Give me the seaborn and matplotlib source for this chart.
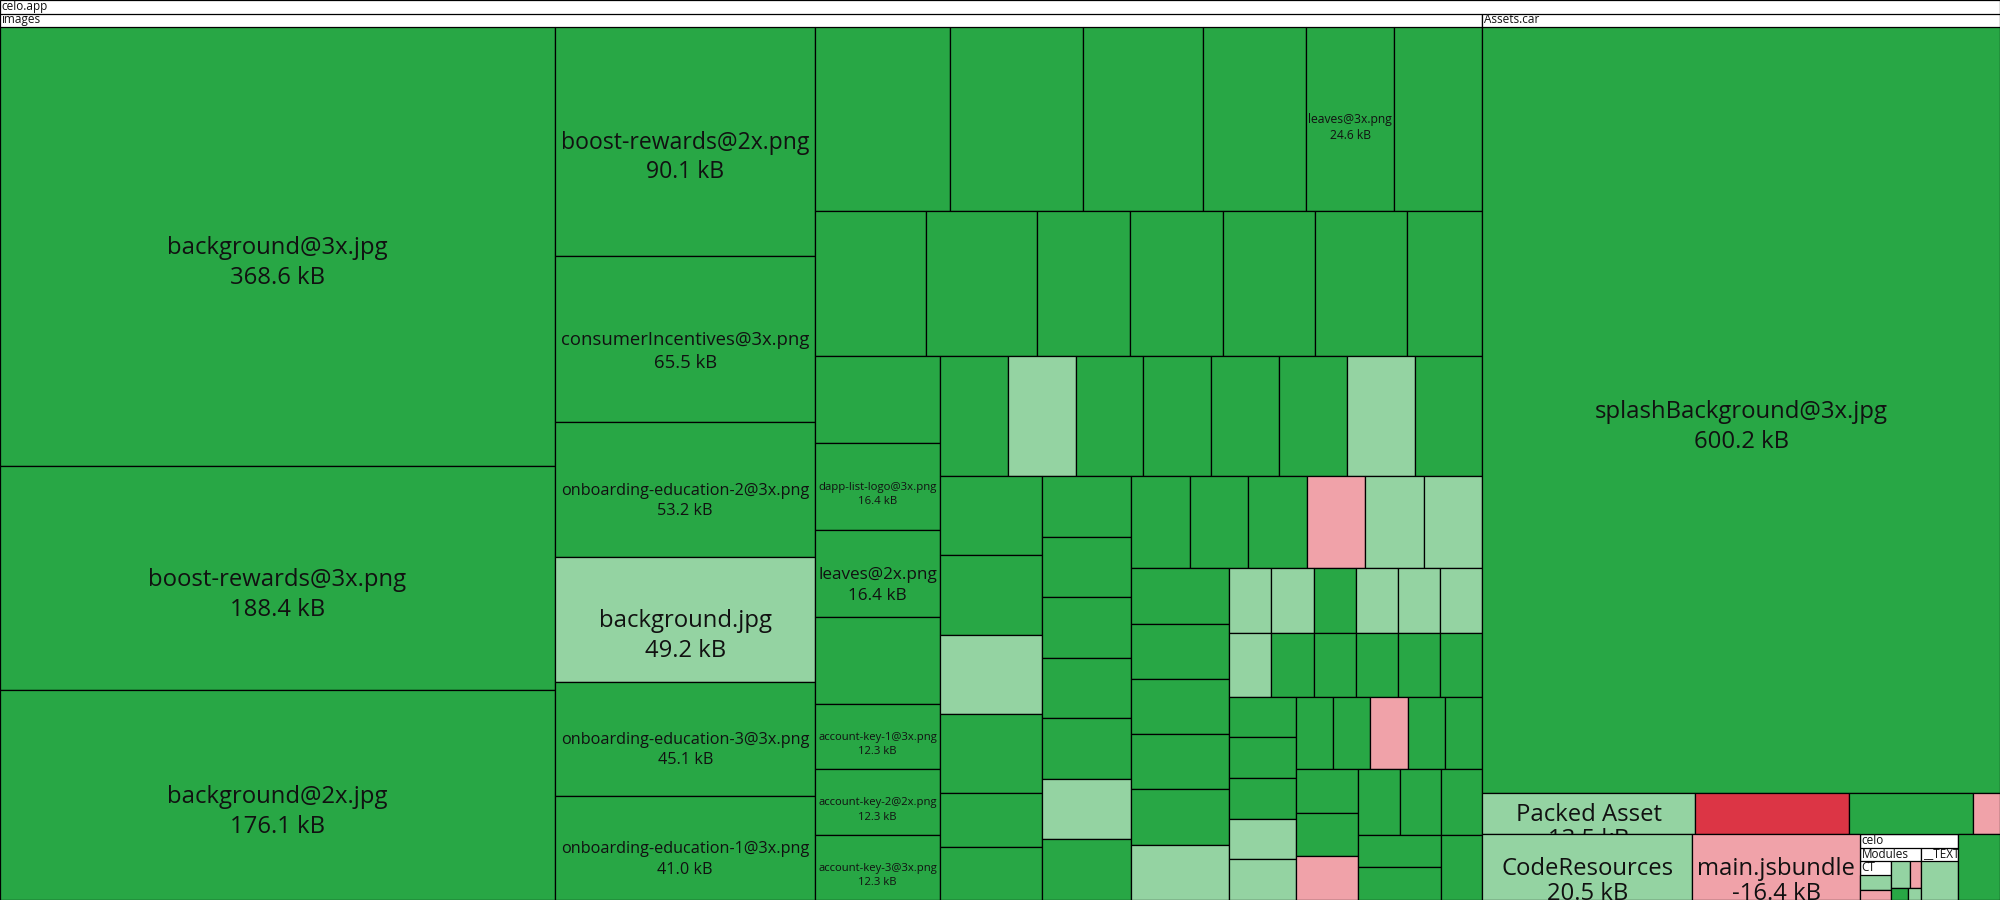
import matplotlib
matplotlib.use("Agg")
import matplotlib.pyplot as plt
import seaborn as sns
from matplotlib.patches import Rectangle
from matplotlib.transforms import Bbox

# ---------------- data (sizes in kB, signed size change) ----------------
# status: A = added, G = grown, S = shrunk, R = removed
image_names = [
    "background@3x.jpg", "boost-rewards@3x.png", "background@2x.jpg",
    "boost-rewards@2x.png", "consumerIncentives@3x.png", "onboarding-education-2@3x.png",
    "background.jpg", "onboarding-education-3@3x.png", "onboarding-education-1@3x.png",
    "", "", "", "", "leaves@3x.png", "",
    "", "", "", "", "", "", "",
    "", "dapp-list-logo@3x.png", "leaves@2x.png", "", "account-key-1@3x.png",
    "account-key-2@2x.png", "account-key-3@3x.png",
    "", "", "", "", "", "", "", "",
    "", "", "", "", "", "",
    "", "", "", "", "", "", "",
    "", "", "", "", "", "",
    "", "", "", "", "", "",
    "", "", "", "", "", "",
    "", "", "", "", "", "",
    "", "", "", "", "",
    "", "", "", "", "",
    "", "", "",
    "", "", "",
    "", "", "",
]
image_sizes = [
    368.6, 188.4, 176.1,
    90.1, 65.5, 53.2, 49.2, 45.1, 41.0,
    37.4, 37.0, 33.5, 28.5, 24.6, 24.5,
    24.4, 24.3, 20.4, 20.4, 20.3, 20.3, 16.5,
    16.4, 16.4, 16.4, 16.4, 12.3, 12.3, 12.3,
    12.3, 12.3, 12.3, 12.3, 12.3, 12.3, 12.3, 12.3,
    12.2, 12.2, 12.2, 12.2, 8.2, 8.2,
    8.2, 8.2, 8.2, 8.2, 8.2, 8.2, 8.2,
    8.2, 8.2, 8.2, 8.2, 8.2, 8.2,
    8.2, 8.2, 8.2, 8.2, 8.2, 8.2,
    4.1, 4.1, 4.1, 4.1, 4.1, 4.1,
    4.1, 4.1, 4.1, 4.1, 4.1, 4.1,
    4.1, 4.1, 4.1, 4.1, 4.1,
    4.1, 4.1, 4.1, 4.1, 4.1,
    4.1, 4.1, 4.1,
    4.1, 4.1, 4.1,
    4.1, 4.1, 4.1,
]
image_status = list(
    "AAA" "AAAGAA" "AAAAAA" "AAAAAAA" "AAAAAAA" "AGAAAAGA" "AAGAAA"
    "AAAAAGA" "AAASGG" "AAAAAG" "GGAGGG" "GAAAAA" "AAAGG" "AASAA"
    "AAS" "AAA" "AAA"
)

assets_names = ["splashBackground@3x.jpg", "Packed Asset", "", "", ""]
assets_sizes = [600.2, 13.5, -9.7, 7.9, -1.7]
assets_status = ["A", "G", "R", "A", "S"]

root_names = ["CodeResources", "main.jsbundle", ""]
root_sizes = [20.5, -16.4, 4.1]
root_status = ["G", "S", "A"]

ct_names = ["", ""]
ct_sizes = [1.8, -1.2]
ct_status = ["G", "S"]
modules_names = ["", "", "", ""]
modules_sizes = [1.3, -0.8, 0.5, 0.4]
modules_status = ["G", "S", "A", "G"]
text_names = [""]
text_sizes = [3.6]
text_status = ["G"]

COLORS = {"A": "#28a745", "G": "#94d3a2", "S": "#f0a2a9", "R": "#dc3545"}


def leaves(names, sizes, status):
    return [dict(name=n, value=v, status=s) for n, v, s in zip(names, sizes, status)]


celo_binary = dict(name="celo", children=[
    dict(name="Modules", children=[
        dict(name="CT", children=leaves(ct_names, ct_sizes, ct_status)),
    ] + leaves(modules_names, modules_sizes, modules_status)),
    dict(name="__TEXT", children=leaves(text_names, text_sizes, text_status)),
])

tree = dict(name="celo.app", children=[
    dict(name="images", children=leaves(image_names, image_sizes, image_status)),
    dict(name="Assets.car", children=leaves(assets_names, assets_sizes, assets_status)),
] + leaves(root_names[:2], root_sizes[:2], root_status[:2])
  + [celo_binary]
  + leaves(root_names[2:], root_sizes[2:], root_status[2:]))


def total(node):
    if "children" in node:
        node["size"] = sum(total(c) for c in node["children"])
    else:
        node["size"] = abs(node["value"])
    return node["size"]


total(tree)

# ---------------- layout (d3-style squarified treemap) ----------------
W, H = 2000, 900
PAD_TOP = 13.5
PHI = (1 + 5 ** 0.5) / 2


def squarify(values, x0, y0, x1, y1, ratio=PHI):
    n = len(values)
    rects = [None] * n
    value = float(sum(values))
    i0 = i1 = 0
    while i0 < n:
        dx, dy = x1 - x0, y1 - y0
        sumv = values[i1]
        i1 += 1
        minv = maxv = sumv
        alpha = max(dy / dx, dx / dy) / (value * ratio)
        beta = sumv * sumv * alpha
        minr = max(maxv / beta, beta / minv)
        while i1 < n:
            nv = values[i1]
            sumv += nv
            minv = min(minv, nv)
            maxv = max(maxv, nv)
            beta = sumv * sumv * alpha
            newr = max(maxv / beta, beta / minv)
            if newr > minr:
                sumv -= nv
                break
            minr = newr
            i1 += 1
        row = range(i0, i1)
        if dx < dy:
            ny = y0 + dy * sumv / value if value else y1
            xx = x0
            for i in row:
                w = (x1 - x0) * values[i] / sumv
                rects[i] = (xx, y0, xx + w, ny)
                xx += w
            y0 = ny
        else:
            nx = x0 + dx * sumv / value if value else x1
            yy = y0
            for i in row:
                h = (y1 - y0) * values[i] / sumv
                rects[i] = (x0, yy, nx, yy + h)
                yy += h
            x0 = nx
        value -= sumv
        i0 = i1
    return rects


# ---------------- drawing ----------------
sns.set_theme(style="white")
plt.rcParams["font.family"] = ["Open Sans", "DejaVu Sans"]

fig = plt.figure(figsize=(20, 9), dpi=100)
ax = fig.add_axes([0, 0, 1, 1])
ax.set_xlim(0, W)
ax.set_ylim(H, 0)
ax.axis("off")
renderer = fig.canvas.get_renderer()

MAX_PT = 17.2
MIN_PT = 6.5
HEADER_PT = 8.5
LW = 0.9


def text_width(s, size):
    t = ax.text(0, 0, s, fontsize=size)
    w = t.get_window_extent(renderer).width
    t.remove()
    return w


def clip_to(t, x0, y0, x1, y1):
    (a0, b0), (a1, b1) = ax.transData.transform([(x0, y0), (x1, y1)])
    t.set_clip_on(True)
    t.set_clip_box(Bbox.from_extents(min(a0, a1), min(b0, b1), max(a0, a1), max(b0, b1)))


def draw(node, x0, y0, x1, y1):
    w, h = x1 - x0, y1 - y0
    if "children" in node:
        rect = Rectangle((x0, y0), w, h, facecolor="white", edgecolor="black", lw=LW, zorder=1)
        ax.add_patch(rect)
        t = ax.text(x0 + 1.5, y0 + PAD_TOP / 2 - 0.6, node["name"], fontsize=HEADER_PT,
                    ha="left", va="center", color="#111111", zorder=5)
        clip_to(t, x0, y0, x1, y1)
        kids = node["children"]
        rects = squarify([c["size"] for c in kids], x0, y0 + PAD_TOP, x1, y1)
        for c, r in zip(kids, rects):
            draw(c, *r)
    else:
        rect = Rectangle((x0, y0), w, h, facecolor=COLORS[node["status"]],
                         edgecolor="black", lw=LW, zorder=2)
        ax.add_patch(rect)
        if node["name"]:
            label_val = f"{node['value']:.1f} kB"
            wmax = max(text_width(node["name"], 10), text_width(label_val, 10))
            size = min(MAX_PT, 10 * 0.95 * w / wmax)
            if size >= MIN_PT:
                fpx = size * 100 / 72
                gap = 1.25 * fpx if h > 3 * fpx else 1.05 * fpx
                cx, cy = x0 + w / 2, y0 + h / 2 + 0.08 * fpx
                for s, yy in ((node["name"], cy), (label_val, cy + gap)):
                    t = ax.text(cx, yy, s, fontsize=size, ha="center", va="center",
                                color="#111111", zorder=6)
                    clip_to(t, x0, y0, x1, y1)


draw(tree, 0, 0, W, H)
fig.savefig("out.png", dpi=100)
